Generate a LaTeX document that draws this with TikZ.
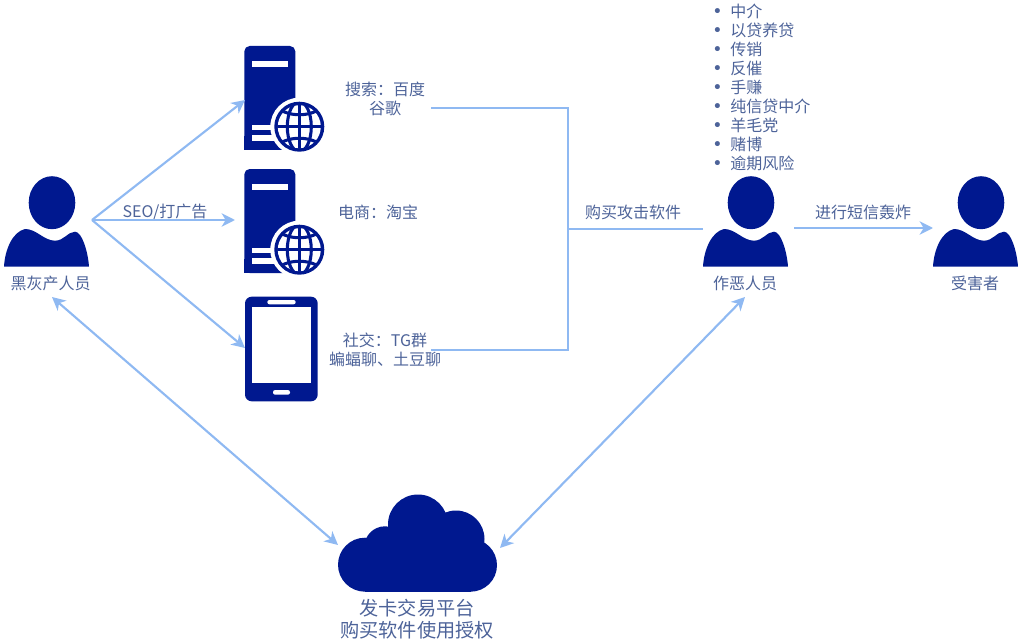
\documentclass[tikz,border=0pt]{standalone}
\usepackage{fontspec}
\setmainfont{Noto Sans CJK SC}
\newfontfamily\bulletfont{DejaVu Sans}
\usetikzlibrary{positioning, arrows.meta}

\definecolor{iconBlue}{HTML}{00188F}
\definecolor{lineBlue}{HTML}{8FB9F2}
\definecolor{textBlue}{HTML}{4D6399}

\newcommand{\listMark}{\makebox[13.5pt][l]{\bulletfont\fontsize{13}{13}\selectfont •}}

\tikzset{
    textNode/.style = {inner sep = 0pt, text = textBlue, align = center, font = \fontsize{12}{14.25}\selectfont},
    bigTextNode/.style = {textNode, font = \fontsize{14.4}{16.2}\selectfont},
    link/.style = {draw = lineBlue, line width = 1.6pt},
    person/.pic = {
        \fill[iconBlue] (48, -64) ellipse [x radius = 23.3, y radius = 26.5];
        \fill[iconBlue] (0, 0) .. controls (1, -18) and (9, -35) .. (21, -37.7)
            .. controls (32, -38) and (40, -26) .. (51, -26)
            .. controls (60, -26) and (64, -35) .. (71, -35)
            .. controls (78, -35) and (84, -15) .. (85, 0) -- cycle;
    },
    server/.pic = {
        \fill[iconBlue, rounded corners = 4pt] (0, 104) -- (0, 0) -- (51, 0) -- (51, 104) -- cycle;
        \fill[iconBlue] (0, 90) rectangle (40, 104);
        \fill[white] (8, 15.3) rectangle (43.7, 20.7);
        \fill[white] (8, 79) rectangle (35, 84);
        \fill[white] (8, 89) rectangle (35, 94.7);
        \fill[white] (55, 80.7) circle [radius = 29];
        \fill[iconBlue] (55, 80.7) circle [radius = 25];
        \fill[white] (55, 80.7) circle [radius = 21.5];
        \begin{scope}
            \clip (55, 80.7) circle [radius = 22];
            \draw[iconBlue, line width = 2.3pt] (55, 80.7) ellipse [x radius = 12, y radius = 25];
            \draw[iconBlue, line width = 2.3pt] (55, 56) -- (55, 105);
            \draw[iconBlue, line width = 2.3pt] (30, 80.7) -- (80, 80.7);
            \draw[iconBlue, line width = 2.3pt] (33, 62) .. controls (45, 71) and (65, 71) .. (77, 62);
            \draw[iconBlue, line width = 2.3pt] (33, 99) .. controls (45, 90) and (65, 90) .. (77, 99);
        \end{scope}
    }
}

\begin{document}
\begin{tikzpicture}[x = 0.75pt, y = -0.75pt, >={Stealth[length = 10pt, width = 10pt, inset = 3pt]}]
        \useasboundingbox (0, 0) rectangle (1022, 642);

        \coordinate (blackStart) at (92, 220);
        \coordinate (topEnd) at (245, 100);
        \coordinate (midEnd) at (235, 220);
        \coordinate (phoneEnd) at (245, 348);
        \coordinate (blackBelow) at (52, 297);
        \coordinate (evilBelow) at (745, 297);
        \coordinate (cloudLeft) at (338, 545);
        \coordinate (cloudRight) at (500, 548);
        \coordinate (evilLeft) at (703, 229);
        \coordinate (evilRight) at (794, 228);
        \coordinate (victimLeft) at (933, 228);
        \coordinate (searchEnd) at (431, 108);
        \coordinate (socialEnd) at (431, 350);
        \coordinate (joinTop) at (568, 108);
        \coordinate (joinMid) at (568, 229);
        \coordinate (joinBottom) at (568, 350);

        \pic at (4, 266.7) {person};
        \pic at (703, 266.7) {person};
        \pic at (933, 266.7) {person};
        \pic at (244.3, 46) {server};
        \pic at (244.3, 169) {server};

        % phone
        \fill[iconBlue, rounded corners = 5pt] (245, 296.7) rectangle (317.7, 401.3);
        \fill[white] (251.7, 307) rectangle (311, 383.3);
        \fill[white, rounded corners = 1.6pt] (267.3, 300) rectangle (295.7, 304.3);
        \fill[white, rounded corners = 1.6pt] (273, 390) rectangle (290, 394.7);

        % cloud
        \fill[iconBlue] (365, 564.7) circle [radius = 27];
        \fill[iconBlue] (470.5, 565.2) circle [radius = 26.5];
        \fill[iconBlue] (418, 524.5) circle [radius = 30];
        \fill[iconBlue] (456, 539) circle [radius = 28.5];
        \fill[iconBlue] (385, 547) circle [radius = 20.7];
        \fill[iconBlue] (365, 545) rectangle (470.5, 591.7);

        \node[textNode] (blackLabel) at (50.5, 283) {黑灰产人员};
        \node[textNode] (evilLabel) at (745, 283) {作恶人员};
        \node[textNode] (victimLabel) at (975, 283) {受害者};
        \node[textNode] (searchLabel) at (385, 99) {搜索：百度\\谷歌};
        \node[textNode] (shopLabel) at (378, 212) {电商：淘宝};
        \node[textNode] (socialLabel) at (385, 349.5) {社交：TG群\\蝙蝠聊、土豆聊};
        \node[textNode] (seoLabel) at (165, 212) {SEO/打广告};
        \node[textNode] (buyLabel) at (633, 212) {购买攻击软件};
        \node[textNode] (smsLabel) at (863, 212) {进行短信轰炸};
        \node[bigTextNode] (cloudLabel) at (417, 619) {发卡交易平台\\购买软件使用授权};
        \node[textNode, align = left, anchor = north west] (listNode) at (712, 4) {%
            \listMark 中介\\
            \listMark 以贷养贷\\
            \listMark 传销\\
            \listMark 反催\\
            \listMark 手赚\\
            \listMark 纯信贷中介\\
            \listMark 羊毛党\\
            \listMark 赌博\\
            \listMark 逾期风险};

        \draw[link, ->] (blackStart) -- (topEnd);
        \draw[link, ->] (blackStart) -- (midEnd);
        \draw[link, ->] (blackStart) -- (phoneEnd);
        \draw[link] (searchEnd) -- (joinTop) -- (joinBottom) -- (socialEnd);
        \draw[link] (joinMid) -- (evilLeft);
        \draw[link, ->] (evilRight) -- (victimLeft);
        \draw[link, <->] (blackBelow) -- (cloudLeft);
        \draw[link, <->] (evilBelow) -- (cloudRight);
      \end{tikzpicture}
\end{document}
